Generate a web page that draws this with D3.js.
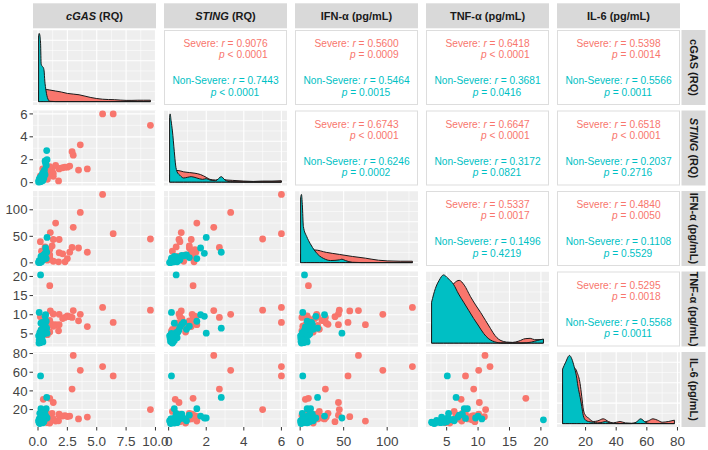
<!DOCTYPE html>
<html>
<head>
<meta charset="utf-8">
<script src="https://cdn.jsdelivr.net/npm/d3@7"></script>
<style>
  body { margin: 0; background: #fff; }
  svg { display: block; font-family: "Liberation Sans", Arial, sans-serif; }
</style>
</head>
<body>
<svg id="chart" width="708" height="450"></svg>
<script>
// ---- data ----
const sevCGAS  = [5.5,6.4,9.57,3.6,3.0,2.9,4.2,1.0,3.45,2.7,2.3,1.5,1.05,1.3,1.8,1.8,2.1,2.5,1.75,1.2,1.0,0.4,0.7,0.8,0.5,1.0,0.6,0.9,0.3,1.3,0.45,0.2];
const sevSTING = [6.0,6.0,5.0,3.3,2.4,2.7,1.2,1.3,1.1,1.45,1.35,1.5,0.67,0.55,1.2,1.25,1.3,1.35,0.15,1.1,1.4,1.2,0.5,0.3,0.7,0.9,0.4,0.6,0.2,0.8,0.35,0.6];
const sevIFN   = [129,55,45,95,67,29,20,9.5,28,20,2,75,57,44,44,19,17,8,2,32,25,20,12,5,10,15,30,8,22,3,6,40];
const sevTNF   = [11.9,8.0,11.2,10.1,11.1,9.3,6.9,17.6,8.4,9.5,9.3,7.4,11.0,10.2,7.4,10.1,9.0,9.7,5.8,7.5,8.5,7.2,6.5,4.8,9.0,5.5,7.8,8.0,6.2,7.0,7.3,9.5];
const sevIL6   = [66,56,20,62,78,42,12,32,10,13,13.5,7.7,12.4,27.6,14,15,13,12.5,8,16,11,10,14,6,9,5.6,12,15,18,10,31,7];

const nonCGAS  = [0.22,0.22,0.74,0.77,0.10,0.65,0.60,0.50,0.70,0.25,0.55,0.45,0.30,0.15,0.20,0.35,0.05,0.40,0.12,0.28,0.50,0.08,0.33,0.18,0.60,0.25,0.42,0.15,0.38,0.10,0.30];
const nonSTING = [0.40,0.15,2.80,2.00,0.15,1.70,1.90,0.95,1.50,0.30,1.10,0.60,0.45,0.10,0.20,0.25,0.05,0.50,0.30,0.12,0.40,0.20,0.35,0.08,0.70,0.55,0.18,0.40,0.80,0.25,0.15];
const nonIFN   = [5,3,20,48,3,28,18,15,8,12,10,6,2,1,4,7,0.5,9,2,3,11,1.5,6,0.8,14,5,8,2.5,13,4,9];
const nonTNF   = [20.4,5.1,6.5,5.2,10.6,10.0,9.6,6.2,8.3,7.8,7.0,6.8,4.0,3.0,2.7,3.5,4.5,5.5,3.2,4.8,5.0,2.6,4.2,3.8,7.5,6.0,2.9,5.3,8.0,3.4,4.6];
const nonIL6   = [9,56,33,11,10,13,11,8,21,21,14,12,6,5,6,7,8,9,5.5,10,7,6.5,12,7,15,9.5,5.8,16,10.5,8.5,6.2];

// density curves on the diagonal: [value, relative density]
const sevDensCGAS  = [[0.05,0.16],[0.5,0.18],[1.0,0.17],[1.5,0.155],[2.0,0.14],[2.5,0.12],[3.0,0.11],[3.5,0.1],[4.0,0.08],[4.5,0.06],[5.0,0.045],[5.5,0.035],[6.0,0.03],[6.5,0.028],[7.0,0.022],[7.5,0.018],[8.0,0.018],[8.5,0.02],[9.0,0.02],[9.57,0.02]];
const nonDensCGAS  = [[0.05,0.97],[0.1,1.0],[0.17,0.96],[0.22,0.85],[0.27,0.55],[0.35,0.52],[0.45,0.5],[0.52,0.45],[0.58,0.3],[0.65,0.2],[0.72,0.12],[0.8,0.06],[0.9,0.02],[1.0,0.005],[1.5,0],[9.57,0]];
const sevDensSTING = [[0.05,0.1],[0.3,0.17],[0.5,0.17],[0.8,0.15],[1.1,0.14],[1.4,0.13],[1.7,0.11],[2.0,0.07],[2.2,0.04],[2.5,0.03],[2.8,0.04],[3.1,0.03],[3.4,0.025],[4.0,0.015],[4.5,0.01],[5.0,0.015],[5.5,0.015],[6.0,0.02]];
const nonDensSTING = [[0.05,0.95],[0.08,1.0],[0.13,0.9],[0.2,0.75],[0.3,0.45],[0.37,0.25],[0.45,0.15],[0.6,0.1],[0.8,0.06],[1.0,0.07],[1.2,0.08],[1.5,0.06],[1.8,0.04],[2.0,0.05],[2.2,0.03],[2.5,0.02],[2.8,0.08],[3.0,0.03],[3.3,0.005],[4.0,0],[6.0,0]];
const sevDensIFN   = [[0.5,0.12],[10,0.17],[17,0.185],[30,0.15],[45,0.12],[60,0.09],[75,0.065],[90,0.035],[100,0.025],[115,0.02],[129,0.02]];
const nonDensIFN   = [[0.5,0.95],[1.5,1.0],[2.5,0.85],[3.7,0.53],[7.6,0.38],[11.5,0.28],[17,0.17],[22,0.1],[27,0.06],[35,0.03],[45,0.04],[48,0.05],[52,0.03],[60,0.005],[70,0],[129,0]];
const sevDensTNF   = [[2.6,0.25],[3.5,0.45],[4.5,0.65],[5.5,0.8],[6.2,0.88],[7.0,0.92],[7.8,0.85],[8.8,0.68],[9.6,0.56],[10.4,0.45],[11.2,0.33],[12.0,0.21],[12.7,0.11],[13.3,0.055],[14.0,0.025],[14.5,0.015],[15.5,0.01],[16.5,0.03],[17.5,0.065],[18.3,0.07],[19.0,0.05],[20.4,0.05]];
const nonDensTNF   = [[2.6,0.6],[3.2,0.8],[3.8,0.92],[4.5,1.0],[5.2,0.95],[6.1,0.86],[6.9,0.72],[7.7,0.6],[8.5,0.48],[9.3,0.36],[10.1,0.25],[10.9,0.14],[11.6,0.07],[12.3,0.03],[13.0,0.01],[13.6,0],[17,0],[18.5,0.015],[19.5,0.04],[20.4,0.06]];
const sevDensIL6   = [[5,0.55],[7,0.7],[9,0.75],[11,0.8],[13,0.81],[14.5,0.75],[16.4,0.59],[17.5,0.4],[18.6,0.2],[20,0.12],[22,0.08],[25,0.03],[28,0.04],[31.5,0.07],[35,0.03],[38,0.01],[42.5,0.03],[46,0.01],[50,0.005],[54,0.01],[58,0.02],[61,0.04],[64,0.07],[67,0.05],[70,0.02],[74,0.03],[78,0.05]];
const nonDensIL6   = [[5,0.8],[7,0.9],[9.5,1.0],[11,0.95],[12.5,0.84],[14,0.7],[15,0.55],[16.5,0.38],[17.5,0.25],[18.5,0.12],[20,0.05],[22,0.03],[25,0.02],[28,0.01],[31,0.02],[33,0.03],[36,0.01],[40,0],[50,0],[53,0.02],[56,0.07],[59,0.02],[62,0],[78,0]];

// labels and ticks
const italicPart = ["cGAS", "STING", "", "", ""];
const restPart   = [" (RQ)", " (RQ)", "IFN-α (pg/mL)", "TNF-α (pg/mL)", "IL-6 (pg/mL)"];
const rightItalic = [false, true, false, false, false];
const ticks = [[0, 2.5, 5, 7.5, 10], [0, 2, 4, 6], [0, 50, 100], [5, 10, 15, 20], [20, 40, 60, 80]];
const tickFmt = [d3.format(".1f"), d3.format("d"), d3.format("d"), d3.format("d"), d3.format("d")];

// correlations (upper panels), pairs in row/col order
const corPairs = [[0,1],[0,2],[0,3],[0,4],[1,2],[1,3],[1,4],[2,3],[2,4],[3,4]];
const sevR = ["0.9076","0.5600","0.6418","0.5398","0.6743","0.6647","0.6518","0.5337","0.4840","0.5295"];
const sevP = ["< 0.0001","= 0.0009","< 0.0001","= 0.0014","< 0.0001","< 0.0001","< 0.0001","= 0.0017","= 0.0050","= 0.0018"];
const nonR = ["0.7443","0.5464","0.3681","0.5566","0.6246","0.3172","0.2037","0.1496","0.1108","0.5568"];
const nonP = ["< 0.0001","= 0.0015","= 0.0416","= 0.0011","= 0.0002","= 0.0821","= 0.2716","= 0.4219","= 0.5529","= 0.0011"];

const sevColor = "#F8766D", nonColor = "#00BFC4";
const panelBg = "#EEEEEE", stripBg = "#D9D9D9", axisColor = "#444";

// ---- layout ----
let layout = { left: 33, top: 30, colPitch: 131, rowPitch: 80.5, w: 123, h: 75 };
let colX = d3.range(5).map(i => layout.left + i * layout.colPitch);
let rowY = d3.range(5).map(i => layout.top + i * layout.rowPitch);

let sevData = [sevCGAS, sevSTING, sevIFN, sevTNF, sevIL6];
let nonData = [nonCGAS, nonSTING, nonIFN, nonTNF, nonIL6];
let sevDens = [sevDensCGAS, sevDensSTING, sevDensIFN, sevDensTNF, sevDensIL6];
let nonDens = [nonDensCGAS, nonDensSTING, nonDensIFN, nonDensTNF, nonDensIL6];

// ggplot-like domains: data range + 5%
let domains = d3.range(5).map(i => {
  let ext = d3.extent(sevData[i].concat(nonData[i]));
  let pad = (ext[1] - ext[0]) * 0.05;
  return [ext[0] - pad, ext[1] + pad];
});
let xScales = d3.range(5).map(i => d3.scaleLinear().domain(domains[i]).range([colX[i], colX[i] + layout.w]));
let yScales = d3.range(5).map(i => d3.scaleLinear().domain(domains[i]).range([rowY[i] + layout.h, rowY[i]]));

let svg = d3.select("#chart");

function minorTicks(major, domain) {
  let out = [];
  let step = major[1] - major[0];
  let start = major[0] - step / 2;
  for (let v = start; v <= domain[1]; v += step) {
    if (v >= domain[0]) out.push(v);
  }
  return out;
}

function drawBg(i, j, xs, ys, xt, yt) {
  let g = svg.append("g");
  g.append("rect")
    .attr("x", colX[j]).attr("y", rowY[i])
    .attr("width", layout.w).attr("height", layout.h)
    .style("fill", panelBg);
  let xMin = minorTicks(xt, xs.domain()), yMin = minorTicks(yt, ys.domain());
  g.selectAll(".vmin").data(xMin).enter().append("line")
    .attr("x1", d => xs(d)).attr("x2", d => xs(d))
    .attr("y1", rowY[i]).attr("y2", rowY[i] + layout.h)
    .style("stroke", "#fff").style("stroke-width", 0.55);
  g.selectAll(".hmin").data(yMin).enter().append("line")
    .attr("y1", d => ys(d)).attr("y2", d => ys(d))
    .attr("x1", colX[j]).attr("x2", colX[j] + layout.w)
    .style("stroke", "#fff").style("stroke-width", 0.55);
  g.selectAll(".vmaj").data(xt.filter(d => d >= xs.domain()[0] && d <= xs.domain()[1])).enter().append("line")
    .attr("x1", d => xs(d)).attr("x2", d => xs(d))
    .attr("y1", rowY[i]).attr("y2", rowY[i] + layout.h)
    .style("stroke", "#fff").style("stroke-width", 1.1);
  g.selectAll(".hmaj").data(yt.filter(d => d >= ys.domain()[0] && d <= ys.domain()[1])).enter().append("line")
    .attr("y1", d => ys(d)).attr("y2", d => ys(d))
    .attr("x1", colX[j]).attr("x2", colX[j] + layout.w)
    .style("stroke", "#fff").style("stroke-width", 1.1);
}

// ---- lower panels: scatter ----
for (let i = 1; i < 5; i++) {
  for (let j = 0; j < i; j++) {
    let xs = xScales[j], ys = yScales[i];
    drawBg(i, j, xs, ys, ticks[j], ticks[i]);
    let g = svg.append("g");
    g.selectAll(".sev").data(d3.range(sevData[j].length)).enter().append("circle")
      .attr("cx", k => xs(sevData[j][k]))
      .attr("cy", k => ys(sevData[i][k]))
      .attr("r", 3.4)
      .style("fill", sevColor);
    g.selectAll(".non").data(d3.range(nonData[j].length)).enter().append("circle")
      .attr("cx", k => xs(nonData[j][k]))
      .attr("cy", k => ys(nonData[i][k]))
      .attr("r", 3.4)
      .style("fill", nonColor);
  }
}

// ---- diagonal: densities ----
for (let i = 0; i < 5; i++) {
  let xs = xScales[i];
  let dmax = d3.max(sevDens[i].concat(nonDens[i]), d => d[1]);
  let ys = d3.scaleLinear().domain([-0.05 * dmax, 1.05 * dmax]).range([rowY[i] + layout.h, rowY[i]]);
  drawBg(i, i, xs, ys, ticks[i], [0, 0.3, 0.6, 0.9].map(v => v * dmax));
  let area = d3.area()
    .x(d => xs(d[0]))
    .y0(ys(0))
    .y1(d => ys(d[1]))
    .curve(d3.curveMonotoneX);
  [[sevDens[i], sevColor], [nonDens[i], nonColor]].forEach(([dd, col]) => {
    svg.append("path")
      .datum(dd)
      .attr("d", area)
      .style("fill", col)
      .style("stroke", "#1a1a1a")
      .style("stroke-width", 1)
      .style("stroke-linejoin", "round");
  });
}

// ---- upper panels: correlation text ----
corPairs.forEach(([i, j], k) => {
  let x0 = colX[j], y0 = rowY[i];
  svg.append("rect")
    .attr("x", x0 + 0.5).attr("y", y0 + 0.5)
    .attr("width", layout.w - 1).attr("height", layout.h - 1)
    .style("fill", "#fff")
    .style("stroke", "#DDDDDD")
    .style("stroke-width", 1);
  let cx = x0 + layout.w / 2;
  let fs = "10.2px";

  let l1 = svg.append("text")
    .attr("x", cx).attr("y", y0 + 17)
    .style("text-anchor", "middle").style("font-size", fs).style("fill", sevColor);
  l1.append("tspan").text("Severe: ");
  l1.append("tspan").style("font-style", "italic").text("r");
  l1.append("tspan").text(" = " + sevR[k]);
  let w1 = l1.node().getComputedTextLength();

  let l2 = svg.append("text")
    .attr("x", cx + w1 / 2).attr("y", y0 + 28)
    .style("text-anchor", "end").style("font-size", fs).style("fill", sevColor);
  l2.append("tspan").style("font-style", "italic").text("p");
  l2.append("tspan").text(" " + sevP[k]);

  let l3 = svg.append("text")
    .attr("x", cx).attr("y", y0 + 54)
    .style("text-anchor", "middle").style("font-size", fs).style("fill", nonColor);
  l3.append("tspan").text("Non-Severe: ");
  l3.append("tspan").style("font-style", "italic").text("r");
  l3.append("tspan").text(" = " + nonR[k]);

  let l4 = svg.append("text")
    .attr("x", cx + 9.5).attr("y", y0 + 65.5)
    .style("text-anchor", "middle").style("font-size", fs).style("fill", nonColor);
  l4.append("tspan").style("font-style", "italic").text("p");
  l4.append("tspan").text(" " + nonP[k]);
});

// ---- strips ----
for (let j = 0; j < 5; j++) {
  svg.append("rect")
    .attr("x", colX[j]).attr("y", 3.3)
    .attr("width", layout.w).attr("height", 25)
    .style("fill", stripBg);
  let t = svg.append("text")
    .attr("x", colX[j] + layout.w / 2).attr("y", 20)
    .style("text-anchor", "middle").style("font-size", "11px")
    .style("font-weight", "bold").style("fill", "#1A1A1A");
  if (italicPart[j]) t.append("tspan").style("font-style", "italic").text(italicPart[j]);
  t.append("tspan").text(restPart[j]);
}
for (let i = 0; i < 5; i++) {
  let sx = colX[4] + layout.w + 1.5;
  svg.append("rect")
    .attr("x", sx).attr("y", rowY[i])
    .attr("width", 24).attr("height", layout.h)
    .style("fill", stripBg);
  let t = svg.append("text")
    .attr("transform", `translate(${sx + 8.5},${rowY[i] + layout.h / 2}) rotate(90)`)
    .style("text-anchor", "middle").style("font-size", "11px")
    .style("font-weight", "bold").style("fill", "#1A1A1A");
  if (italicPart[i]) t.append("tspan").style("font-style", rightItalic[i] ? "italic" : "normal").text(italicPart[i]);
  t.append("tspan").text(restPart[i]);
}

// ---- axes ----
let bottom = rowY[4] + layout.h;
for (let j = 0; j < 5; j++) {
  let xs = xScales[j];
  let g = svg.append("g");
  g.selectAll("line").data(ticks[j]).enter().append("line")
    .attr("x1", d => xs(d)).attr("x2", d => xs(d))
    .attr("y1", bottom).attr("y2", bottom + 3.5)
    .style("stroke", "#333").style("stroke-width", 1);
  g.selectAll("text").data(ticks[j]).enter().append("text")
    .attr("x", d => xs(d)).attr("y", bottom + 18.5)
    .text(d => tickFmt[j](d))
    .style("text-anchor", "middle").style("font-size", "13.5px")
    .style("fill", axisColor);
}
for (let i = 1; i < 5; i++) {
  let ys = yScales[i];
  let g = svg.append("g");
  g.selectAll("line").data(ticks[i]).enter().append("line")
    .attr("x1", layout.left - 3.5).attr("x2", layout.left)
    .attr("y1", d => ys(d)).attr("y2", d => ys(d))
    .style("stroke", "#333").style("stroke-width", 1);
  g.selectAll("text").data(ticks[i]).enter().append("text")
    .attr("x", layout.left - 5.5).attr("y", d => ys(d) + 4.6)
    .text(d => tickFmt[i](d))
    .style("text-anchor", "end").style("font-size", "13.2px")
    .style("fill", axisColor);
}
</script>
</body>
</html>
